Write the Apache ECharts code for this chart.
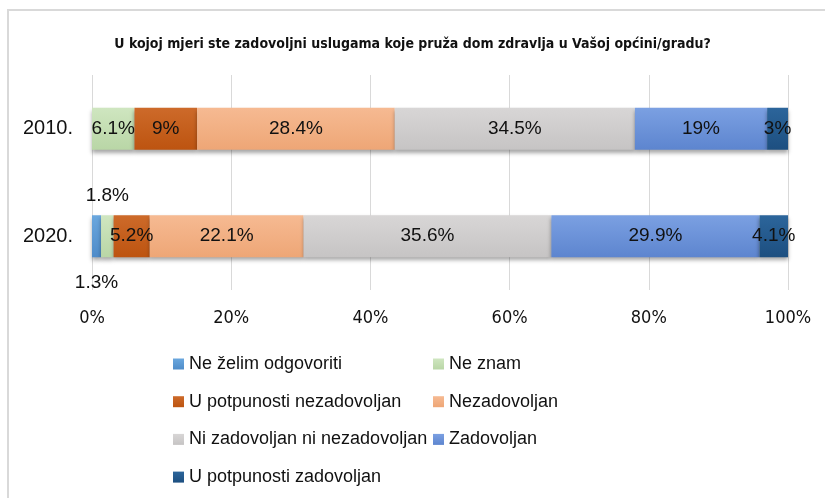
<!DOCTYPE html>
<html>
<head>
<meta charset="utf-8">
<script src="https://cdn.jsdelivr.net/npm/echarts@6/dist/echarts.min.js"></script>
<style>
  html, body { margin: 0; padding: 0; background: #fff; }
  #main { width: 825px; height: 498px; }
</style>
</head>
<body>
<div id="main"></div>
<script>
// podaci
const years = ['2010.', '2020.'];
const seriesNames = [
  'Ne želim odgovoriti',
  'Ne znam',
  'U potpunosti nezadovoljan',
  'Nezadovoljan',
  'Ni zadovoljan ni nezadovoljan',
  'Zadovoljan',
  'U potpunosti zadovoljan'
];
const neZelim = [null, 1.3];
const neZnam = [6.1, 1.8];
const potpunoNezad = [9, 5.2];
const nezadovoljan = [28.4, 22.1];
const niNi = [34.5, 35.6];
const zadovoljan = [19, 29.9];
const potpunoZad = [3, 4.1];
const xTicks = [0, 20, 40, 60, 80, 100];

const values = [neZelim, neZnam, potpunoNezad, nezadovoljan, niNi, zadovoljan, potpunoZad];
const colors = [
  ['#6aa7de', '#4f8cc9'],
  ['#cfe6c0', '#b9d6a6'],
  ['#cd6a2a', '#bd5410'],
  ['#f6ba92', '#eea676'],
  ['#d8d6d6', '#c6c4c4'],
  ['#7ba0e2', '#5d85cf'],
  ['#2c659b', '#1d4f80']
];

const narrow = "'Liberation Sans Narrow', 'DejaVu Sans Condensed', sans-serif";
const regular = "'Liberation Sans', Arial, sans-serif";

function grad(c) {
  return new echarts.graphic.LinearGradient(0, 0, 0, 1, [
    { offset: 0, color: c[0] },
    { offset: 1, color: c[1] }
  ]);
}

const series = seriesNames.map((name, i) => ({
  name: name,
  type: 'bar',
  stack: 'total',
  barWidth: 42,
  color: colors[i][0],
  itemStyle: {
    color: grad(colors[i]),
    shadowColor: 'rgba(0,0,0,0.35)',
    shadowBlur: 4,
    shadowOffsetY: 3
  },
  label: {
    show: true,
    position: 'inside',
    color: '#111',
    fontFamily: regular,
    fontSize: 19,
    formatter: p => p.value + '%'
  },
  data: values[i].map(v => v)
}));

// mali segmenti 2020. - oznake iznad/ispod trake
series[0].data[1] = { value: neZelim[1], label: { position: 'bottom', distance: 16 } };
series[1].data[1] = { value: neZnam[1], label: { position: 'top', distance: 10 } };

const legendText = { fontFamily: regular, fontSize: 18, color: '#111', lineHeight: 18 };

const option = {
  animation: false,
  title: {
    text: 'U kojoj mjeri ste zadovoljni uslugama koje pruža dom zdravlja u Vašoj općini/gradu?',
    left: 'center',
    top: 32,
    textStyle: { fontFamily: narrow, fontSize: 14, fontWeight: 'bold', color: '#111' }
  },
  graphic: [{
    type: 'rect',
    shape: { x: 8, y: 10, width: 840, height: 520 },
    style: { fill: 'none', stroke: '#d9d9d9', lineWidth: 2 },
    silent: true
  }],
  legend: [
    {
      orient: 'vertical',
      left: 168,
      top: 350,
      itemWidth: 11,
      itemHeight: 11,
      itemGap: 19.7,
      icon: 'rect',
      textStyle: legendText,
      data: [seriesNames[0], seriesNames[2], seriesNames[4], seriesNames[6]]
    },
    {
      orient: 'vertical',
      left: 428,
      top: 350,
      itemWidth: 11,
      itemHeight: 11,
      itemGap: 19.7,
      icon: 'rect',
      textStyle: legendText,
      data: [seriesNames[1], seriesNames[3], seriesNames[5]]
    }
  ],
  grid: { left: 92, right: 37, top: 75, bottom: 208 },
  xAxis: {
    type: 'value',
    min: xTicks[0],
    max: xTicks[xTicks.length - 1],
    interval: 20,
    axisLine: { show: false },
    axisTick: { show: false },
    splitLine: { lineStyle: { color: '#d9d9d9', width: 1 } },
    axisLabel: {
      margin: 19,
      fontFamily: narrow,
      fontSize: 18,
      color: '#111',
      formatter: '{value}%'
    }
  },
  yAxis: {
    type: 'category',
    inverse: true,
    data: years,
    axisLine: { show: false },
    axisTick: { show: false },
    axisLabel: { margin: 19, fontFamily: regular, fontSize: 20, color: '#111' }
  },
  series: series
};

const chart = echarts.init(document.getElementById('main'));
chart.setOption(option);
</script>
</body>
</html>
